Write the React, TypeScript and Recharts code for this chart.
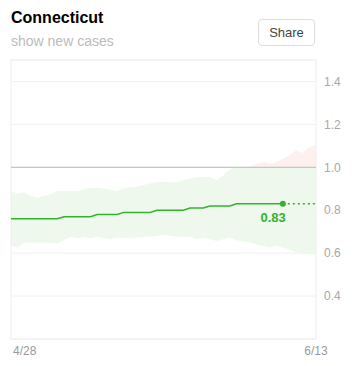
import {
  ComposedChart,
  Area,
  Line,
  XAxis,
  YAxis,
  CartesianGrid,
  ReferenceLine,
  ReferenceArea,
} from "recharts";

const DATES = [
  "4/28", "4/29", "4/30", "5/1", "5/2", "5/3", "5/4", "5/5", "5/6", "5/7",
  "5/8", "5/9", "5/10", "5/11", "5/12", "5/13", "5/14", "5/15", "5/16", "5/17",
  "5/18", "5/19", "5/20", "5/21", "5/22", "5/23", "5/24", "5/25", "5/26", "5/27",
  "5/28", "5/29", "5/30", "5/31", "6/1", "6/2", "6/3", "6/4", "6/5", "6/6",
  "6/7", "6/8", "6/9", "6/10", "6/11", "6/12", "6/13",
];

// Rt estimate, null where only the projection is shown
const RT = [
  0.76, 0.76, 0.76, 0.76, 0.76, 0.76, 0.76, 0.76, 0.77, 0.77,
  0.77, 0.77, 0.77, 0.78, 0.78, 0.78, 0.78, 0.79, 0.79, 0.79,
  0.79, 0.79, 0.8, 0.8, 0.8, 0.8, 0.8, 0.81, 0.81, 0.81,
  0.82, 0.82, 0.82, 0.82, 0.83, 0.83, 0.83, 0.83, 0.83, 0.83,
  0.83, 0.83, null, null, null, null, null,
];

const PROJECTION = [
  null, null, null, null, null, null, null, null, null, null,
  null, null, null, null, null, null, null, null, null, null,
  null, null, null, null, null, null, null, null, null, null,
  null, null, null, null, null, null, null, null, null, null,
  null, 0.83, 0.83, 0.83, 0.83, 0.83, 0.83,
];

const UPPER = [
  0.89, 0.877, 0.884, 0.866, 0.858, 0.868, 0.874, 0.89, 0.89, 0.889,
  0.889, 0.898, 0.905, 0.905, 0.9, 0.894, 0.89, 0.903, 0.908, 0.911,
  0.918, 0.925, 0.931, 0.931, 0.93, 0.931, 0.94, 0.948, 0.955, 0.955,
  0.955, 0.94, 0.962, 0.99, 1.0, 1.002, 1.005, 1.015, 1.025, 1.017,
  1.025, 1.04, 1.056, 1.08, 1.067, 1.095, 1.103,
];

const LOWER = [
  0.634, 0.626, 0.649, 0.649, 0.649, 0.649, 0.649, 0.645, 0.66, 0.676,
  0.67, 0.676, 0.67, 0.676, 0.67, 0.665, 0.673, 0.672, 0.67, 0.673,
  0.676, 0.678, 0.681, 0.685, 0.68, 0.676, 0.676, 0.676, 0.665, 0.673,
  0.665, 0.657, 0.665, 0.673, 0.66, 0.655, 0.65, 0.64, 0.634, 0.626,
  0.634, 0.625, 0.618, 0.605, 0.598, 0.596, 0.595,
];

const Y_TICKS = [0.4, 0.6, 0.8, 1.0, 1.2, 1.4];
const X_TICKS = ["4/28", "6/13"];
const LAST_INDEX = 41;

const GREEN = "#35b22d";
const FONT = "'Liberation Sans', Arial, sans-serif";

const data = DATES.map((date, i) => ({
  date,
  rt: RT[i],
  proj: PROJECTION[i],
  below: [LOWER[i], Math.min(UPPER[i], 1)],
  above: [1, Math.max(UPPER[i], 1)],
}));

function DateTick(props: any) {
  const { x, y, payload } = props;
  const first = payload.value === X_TICKS[0];
  return (
    <text
      x={first ? x + 2 : x}
      y={y}
      dy="0.71em"
      textAnchor={first ? "start" : "middle"}
      fill="#9a9a9a"
      fontSize={12}
      fontFamily={FONT}
    >
      {payload.value}
    </text>
  );
}

function LastLabel(props: any) {
  const { x, y, index } = props;
  if (index !== LAST_INDEX) return null;
  return (
    <text
      x={x + 3}
      y={y + 18}
      textAnchor="end"
      fill={GREEN}
      fontSize={13}
      fontWeight="bold"
      fontFamily={FONT}
    >
      {RT[LAST_INDEX]!.toFixed(2)}
    </text>
  );
}

function LastDot(props: any) {
  const { cx, cy, index } = props;
  if (index !== LAST_INDEX) return <g key={index} />;
  return <circle key={index} cx={cx} cy={cy} r={3} fill={GREEN} />;
}

export default function App() {
  return (
    <div
      style={{
        position: "absolute",
        left: 0,
        top: 0,
        width: 354,
        height: 366,
        background: "#fff",
        fontFamily: FONT,
      }}
    >
      <div
        style={{
          position: "absolute",
          left: 11,
          top: 9,
          fontSize: 16,
          fontWeight: "bold",
          color: "#000",
        }}
      >
        Connecticut
      </div>
      <div
        style={{
          position: "absolute",
          left: 11,
          top: 33,
          fontSize: 14,
          color: "#bbb",
        }}
      >
        show new cases
      </div>
      <div
        style={{
          position: "absolute",
          left: 258,
          top: 19,
          width: 55,
          height: 25,
          border: "1px solid #ddd",
          borderRadius: 4,
          fontSize: 13,
          color: "#444",
          display: "flex",
          alignItems: "center",
          justifyContent: "center",
        }}
      >
        Share
      </div>
      <ComposedChart
        width={354}
        height={366}
        data={data}
        margin={{ top: 60, right: 0, left: 11, bottom: 0 }}
      >
        <CartesianGrid vertical={false} stroke="#f2f2f2" />
        <XAxis
          dataKey="date"
          scale="point"
          ticks={X_TICKS}
          interval={0}
          axisLine={false}
          tickLine={false}
          tickSize={0}
          tickMargin={7}
          height={27}
          tick={<DateTick />}
        />
        <YAxis
          orientation="right"
          domain={[0.2, 1.5]}
          ticks={Y_TICKS}
          tickFormatter={(v: number) => v.toFixed(1)}
          axisLine={false}
          tickLine={false}
          tickSize={0}
          tickMargin={8}
          width={38}
          tick={{ fill: "#a8a8a8", fontSize: 12, fontFamily: FONT }}
        />
        <Area
          dataKey="below"
          type="linear"
          stroke="none"
          fill="#eef8ec"
          fillOpacity={1}
          isAnimationActive={false}
        />
        <Area
          dataKey="above"
          type="linear"
          stroke="none"
          fill="#fdf0ef"
          fillOpacity={1}
          isAnimationActive={false}
        />
        <ReferenceArea
          y1={0.2}
          y2={1.5}
          fill="none"
          stroke="#eeeeee"
          ifOverflow="visible"
        />
        <ReferenceLine y={1} stroke="#bbbbbb" strokeWidth={1} />
        <Line
          dataKey="proj"
          type="linear"
          stroke={GREEN}
          strokeWidth={1.5}
          strokeDasharray="2 3"
          dot={false}
          isAnimationActive={false}
        />
        <Line
          dataKey="rt"
          type="linear"
          stroke={GREEN}
          strokeWidth={1.5}
          dot={<LastDot />}
          activeDot={false}
          label={<LastLabel />}
          isAnimationActive={false}
        />
      </ComposedChart>
    </div>
  );
}
